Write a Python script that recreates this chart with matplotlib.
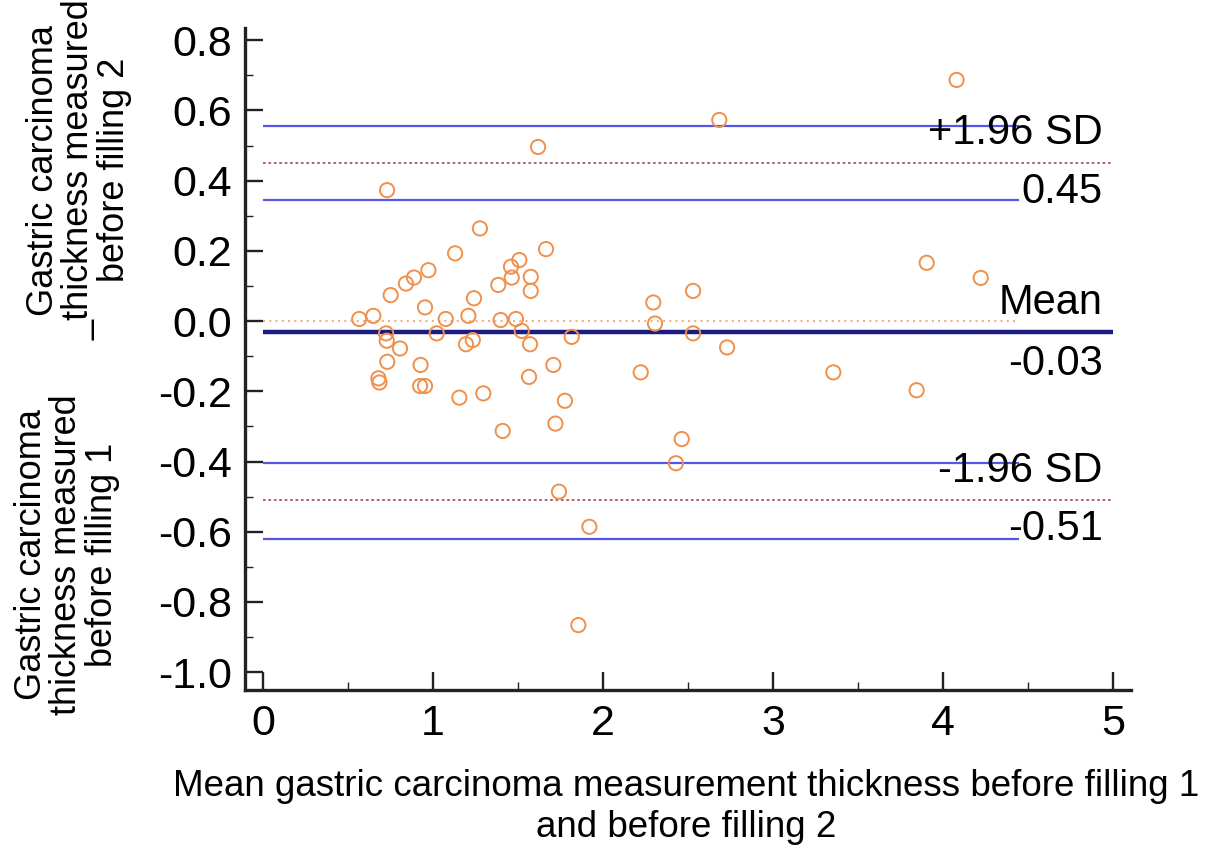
import matplotlib
matplotlib.use('Agg')
import matplotlib.pyplot as plt
from matplotlib.ticker import MultipleLocator

plt.rcParams['font.family'] = ['Liberation Sans', 'DejaVu Sans']

# Bland-Altman data: mean of the two measurements vs difference
mean_vals = [0.73, 1.618, 2.684, 4.08, 3.904, 4.222, 1.276, 1.13, 1.665, 1.508,
             1.459, 1.463, 1.575, 1.575, 1.384, 0.973, 0.888, 0.841, 0.751, 1.241,
             0.953, 0.566, 0.649, 1.075, 1.208, 1.398, 1.488, 1.522, 1.022, 0.724,
             0.728, 0.806, 1.194, 1.234, 1.571, 1.816, 0.731, 0.927, 1.708, 0.679,
             0.685, 0.924, 0.953, 1.565, 1.155, 1.296, 1.776, 1.41, 1.72, 2.296,
             2.53, 2.306, 2.53, 2.73, 2.222, 2.463, 2.429, 1.741, 1.92, 1.855,
             3.355, 3.845]
diff_vals = [0.373, 0.496, 0.573, 0.687, 0.166, 0.123, 0.264, 0.193, 0.205, 0.174,
             0.155, 0.124, 0.126, 0.086, 0.103, 0.145, 0.124, 0.107, 0.074, 0.065,
             0.039, 0.006, 0.015, 0.006, 0.015, 0.003, 0.006, -0.028, -0.035, -0.035,
             -0.056, -0.078, -0.066, -0.054, -0.066, -0.045, -0.116, -0.125, -0.125, -0.163,
             -0.175, -0.185, -0.185, -0.159, -0.218, -0.206, -0.227, -0.313, -0.292, 0.053,
             0.086, -0.007, -0.035, -0.075, -0.146, -0.336, -0.405, -0.486, -0.586, -0.866,
             -0.146, -0.197]

mean_diff = -0.03
upper_loa = 0.45
lower_loa = -0.51
upper_ci = [0.345, 0.555]
lower_ci = [-0.62, -0.405]
ci_end = 4.45
line_end = 5.0

fig = plt.figure(figsize=(12.05, 8.66), dpi=100)
ax = fig.add_axes([0.2033, 0.2032, 0.7353, 0.7645])

# reference lines
ax.hlines(0, 0, ci_end, colors='#F5B080', linestyles=(0, (1, 2)), linewidth=1.5, zorder=1)
for v in upper_ci + lower_ci:
    ax.hlines(v, 0, ci_end, colors='#5555E8', linewidth=1.6, zorder=2)
for v in [upper_loa, lower_loa]:
    ax.hlines(v, 0, line_end, colors='#A85A5A', linestyles=(0, (1.5, 1.5)), linewidth=1.3, zorder=2)
ax.hlines(mean_diff, 0, line_end, colors='#1C1C80', linewidth=3.2, zorder=2)

ax.scatter(mean_vals, diff_vals, s=105, facecolors='none', edgecolors='#F0904A',
           linewidths=1.4, zorder=3)

# labels for the lines
txt = dict(ha='right', va='baseline', fontsize=30, textcoords='offset points',
           xycoords='data', zorder=4)
xr = 4.94
ax.annotate('+1.96 SD', (xr, upper_loa), xytext=(0, 14), **txt)
ax.annotate('%.2f' % upper_loa, (xr, upper_loa), xytext=(0, -29), **txt)
ax.annotate('Mean', (xr, mean_diff), xytext=(0, 13), **txt)
ax.annotate('%.2f' % mean_diff, (xr, mean_diff), xytext=(0, -31), **txt)
ax.annotate('-1.96 SD', (xr, lower_loa), xytext=(0, 13), **txt)
ax.annotate('%.2f' % lower_loa, (xr, lower_loa), xytext=(0, -29), **txt)

ax.set_xlim(-0.106, 5.106)
ax.set_ylim(-1.051, 0.835)
ax.xaxis.set_major_locator(MultipleLocator(1))
ax.xaxis.set_minor_locator(MultipleLocator(0.5))
ax.yaxis.set_major_locator(MultipleLocator(0.2))
ax.yaxis.set_minor_locator(MultipleLocator(0.1))
ax.yaxis.set_major_formatter(plt.FuncFormatter(lambda v, p: '%.1f' % v))

for s in ['top', 'right']:
    ax.spines[s].set_visible(False)
for s in ['left', 'bottom']:
    ax.spines[s].set_linewidth(2.4)
    ax.spines[s].set_color('#222222')

ax.tick_params(which='major', direction='in', length=13, width=1.7, color='#222222',
               labelsize=31, pad=9)
ax.tick_params(which='minor', direction='in', length=6, width=1.0, color='#222222')
ax.tick_params(axis='x', pad=10)

fig.text(686 / 1205, 1 - 807 / 866,
         'Mean gastric carcinoma measurement thickness before filling 1\nand before filling 2',
         ha='center', va='center', fontsize=26.5, linespacing=1.2)

fig.text(79 / 1205, 1 - 170 / 866,
         'Gastric carcinoma\n_thickness measured\nbefore filling 2',
         rotation=90, ha='center', va='center', fontsize=26, linespacing=1.0,
         multialignment='center')
fig.text(67 / 1205, 1 - 555 / 866,
         'Gastric carcinoma\nthickness measured\nbefore filling 1',
         rotation=90, ha='center', va='center', fontsize=26, linespacing=1.0,
         multialignment='center')

fig.savefig('out.png', dpi=100)
